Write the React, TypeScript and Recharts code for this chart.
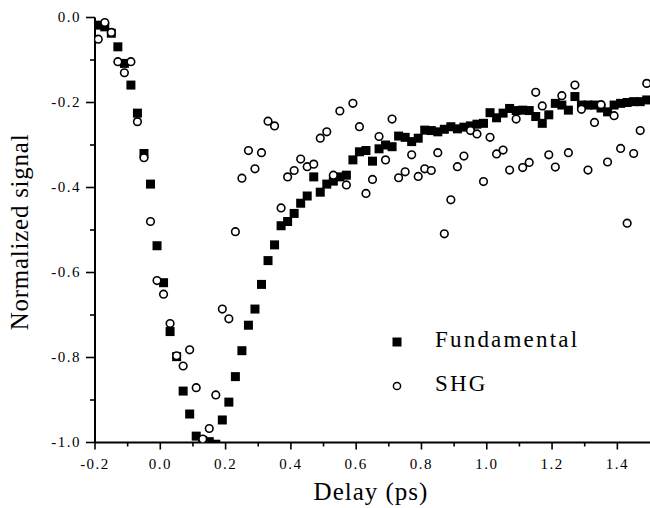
import React from 'react';
import { ScatterChart, Scatter, XAxis, YAxis } from 'recharts';

const delays = [
  -0.19, -0.17, -0.15, -0.13, -0.11, -0.09, -0.07, -0.05, -0.03, -0.01,
  0.01, 0.03, 0.05, 0.07, 0.09, 0.11, 0.13, 0.15, 0.17, 0.19,
  0.21, 0.23, 0.25, 0.27, 0.29, 0.31, 0.33, 0.35, 0.37, 0.39,
  0.41, 0.43, 0.45, 0.47, 0.49, 0.51, 0.53, 0.55, 0.57, 0.59,
  0.61, 0.63, 0.65, 0.67, 0.69, 0.71, 0.73, 0.75, 0.77, 0.79,
  0.81, 0.83, 0.85, 0.87, 0.89, 0.91, 0.93, 0.95, 0.97, 0.99,
  1.01, 1.03, 1.05, 1.07, 1.09, 1.11, 1.13, 1.15, 1.17, 1.19,
  1.21, 1.23, 1.25, 1.27, 1.29, 1.31, 1.33, 1.35, 1.37, 1.39,
  1.41, 1.43, 1.45, 1.47, 1.49,
];

const fundamental = [
  -0.018, -0.022, -0.037, -0.069, -0.108, -0.159, -0.225, -0.32, -0.392, -0.537,
  -0.624, -0.739, -0.798, -0.879, -0.933, -0.985, -0.995, -0.998, -1.004, -0.947,
  -0.905, -0.845, -0.784, -0.724, -0.686, -0.628, -0.572, -0.535, -0.49, -0.48,
  -0.461, -0.437, -0.42, -0.375, -0.411, -0.392, -0.385, -0.375, -0.371, -0.335,
  -0.316, -0.313, -0.338, -0.309, -0.3, -0.304, -0.279, -0.282, -0.292, -0.284,
  -0.265, -0.266, -0.269, -0.263, -0.257, -0.262, -0.258, -0.255, -0.251, -0.249,
  -0.224, -0.236, -0.225, -0.214, -0.219, -0.218, -0.219, -0.233, -0.249, -0.229,
  -0.202, -0.206, -0.218, -0.186, -0.206, -0.206, -0.206, -0.213, -0.222, -0.206,
  -0.202, -0.2, -0.198, -0.198, -0.194,
];

const shg = [
  -0.051, -0.012, -0.035, -0.104, -0.13, -0.104, -0.245, -0.33, -0.48, -0.619,
  -0.651, -0.72, -0.796, -0.82, -0.782, -0.871, -0.992, -0.967, -0.888, -0.686,
  -0.709, -0.504, -0.378, -0.313, -0.356, -0.318, -0.244, -0.255, -0.448, -0.375,
  -0.36, -0.333, -0.351, -0.345, -0.284, -0.269, -0.371, -0.22, -0.394, -0.202,
  -0.257, -0.414, -0.381, -0.28, -0.335, -0.239, -0.377, -0.363, -0.323, -0.374,
  -0.356, -0.36, -0.318, -0.509, -0.429, -0.351, -0.326, -0.266, -0.274, -0.386,
  -0.282, -0.321, -0.312, -0.359, -0.239, -0.353, -0.341, -0.176, -0.208, -0.323,
  -0.352, -0.184, -0.318, -0.159, -0.216, -0.359, -0.247, -0.205, -0.34, -0.231,
  -0.308, -0.484, -0.32, -0.266, -0.155,
];

const xTicks = [-0.2, -0.1, 0, 0.1, 0.2, 0.3, 0.4, 0.5, 0.6, 0.7, 0.8, 0.9, 1.0, 1.1, 1.2, 1.3, 1.4];
const yTicks = [0, -0.1, -0.2, -0.3, -0.4, -0.5, -0.6, -0.7, -0.8, -0.9, -1.0];

const seriesNames = ['Fundamental', 'SHG'];
const xTitle = 'Delay (ps)';
const yTitle = 'Normalized signal';

const FONT = 'Liberation Serif, Times New Roman, DejaVu Serif, serif';
const textStyle: React.CSSProperties = { fontFamily: FONT };

const fundData = delays.map((d, i) => ({ delay: d, value: fundamental[i] }));
const shgData = delays.map((d, i) => ({ delay: d, value: shg[i] }));

const isMajor = (v: number) => Math.abs(Math.round(v * 10)) % 2 === 0;

const XTick = (props: any) => {
  const { x, y, payload } = props;
  const v = payload.value as number;
  const major = isMajor(v);
  return (
    <g>
      <line x1={x} x2={x} y1={y} y2={y + (major ? 7 : 4)} stroke="#000" strokeWidth={1.6} />
      {major && (
        <text x={x} y={y + 26.5} textAnchor="middle" style={textStyle} fontSize={15} letterSpacing={1.5} fill="#000">
          {v.toFixed(1)}
        </text>
      )}
    </g>
  );
};

const YTick = (props: any) => {
  const { x, y, payload } = props;
  const v = payload.value as number;
  const major = isMajor(v);
  return (
    <g>
      <line x1={x} x2={x - (major ? 9 : 5)} y1={y} y2={y} stroke="#000" strokeWidth={1.6} />
      {major && (
        <text x={x - 14} y={y + 4.5} textAnchor="end" style={textStyle} fontSize={15} letterSpacing={1.5} fill="#000">
          {v.toFixed(1)}
        </text>
      )}
    </g>
  );
};

const Square = (props: any) => {
  const { cx, cy } = props;
  return <rect x={cx - 4.5} y={cy - 4.5} width={9} height={9} fill="#000" />;
};

const OpenCircle = (props: any) => {
  const { cx, cy } = props;
  return <circle cx={cx} cy={cy} r={3.8} fill="#fff" stroke="#000" strokeWidth={1.6} />;
};

export default function App() {
  return (
    <div style={{ position: 'absolute', left: 0, top: 0, width: 650, height: 508, background: '#fff' }}>
      <ScatterChart width={650} height={508} margin={{ top: 17.5, right: 0, bottom: 0, left: 0 }}>
        <XAxis
          dataKey="delay"
          type="number"
          domain={[-0.2, 1.5]}
          allowDataOverflow
          ticks={xTicks}
          interval={0}
          height={65.5}
          tickSize={0}
          tickMargin={0}
          tickLine={false}
          tick={<XTick />}
          axisLine={{ stroke: '#000', strokeWidth: 2 }}
        />
        <YAxis
          dataKey="value"
          type="number"
          domain={[-1, 0]}
          allowDataOverflow
          ticks={yTicks}
          interval={0}
          width={95}
          tickSize={0}
          tickMargin={0}
          tickLine={false}
          tick={<YTick />}
          axisLine={{ stroke: '#000', strokeWidth: 2 }}
        />
        <Scatter name={seriesNames[0]} data={fundData} shape={<Square />} isAnimationActive={false} />
        <Scatter name={seriesNames[1]} data={shgData} shape={<OpenCircle />} isAnimationActive={false} />
      </ScatterChart>
      <svg
        width={650}
        height={508}
        style={{ position: 'absolute', left: 0, top: 0, pointerEvents: 'none' }}
      >
        <text
          x={0}
          y={0}
          transform="translate(28,232) rotate(-90)"
          textAnchor="middle"
          style={textStyle}
          fontSize={25}
          letterSpacing={0.75}
          fill="#000"
        >
          {yTitle}
        </text>
        <text x={371} y={500} textAnchor="middle" style={textStyle} fontSize={25} letterSpacing={1} fill="#000">
          {xTitle}
        </text>
        <rect x={392.5} y={337.5} width={9} height={9} fill="#000" />
        <text x={435} y={346.5} style={textStyle} fontSize={23} letterSpacing={2.2} fill="#000">
          {seriesNames[0]}
        </text>
        <circle cx={397} cy={386} r={3.6} fill="#fff" stroke="#000" strokeWidth={1.5} />
        <text x={435} y={391} style={textStyle} fontSize={23} letterSpacing={2.2} fill="#000">
          {seriesNames[1]}
        </text>
      </svg>
    </div>
  );
}
